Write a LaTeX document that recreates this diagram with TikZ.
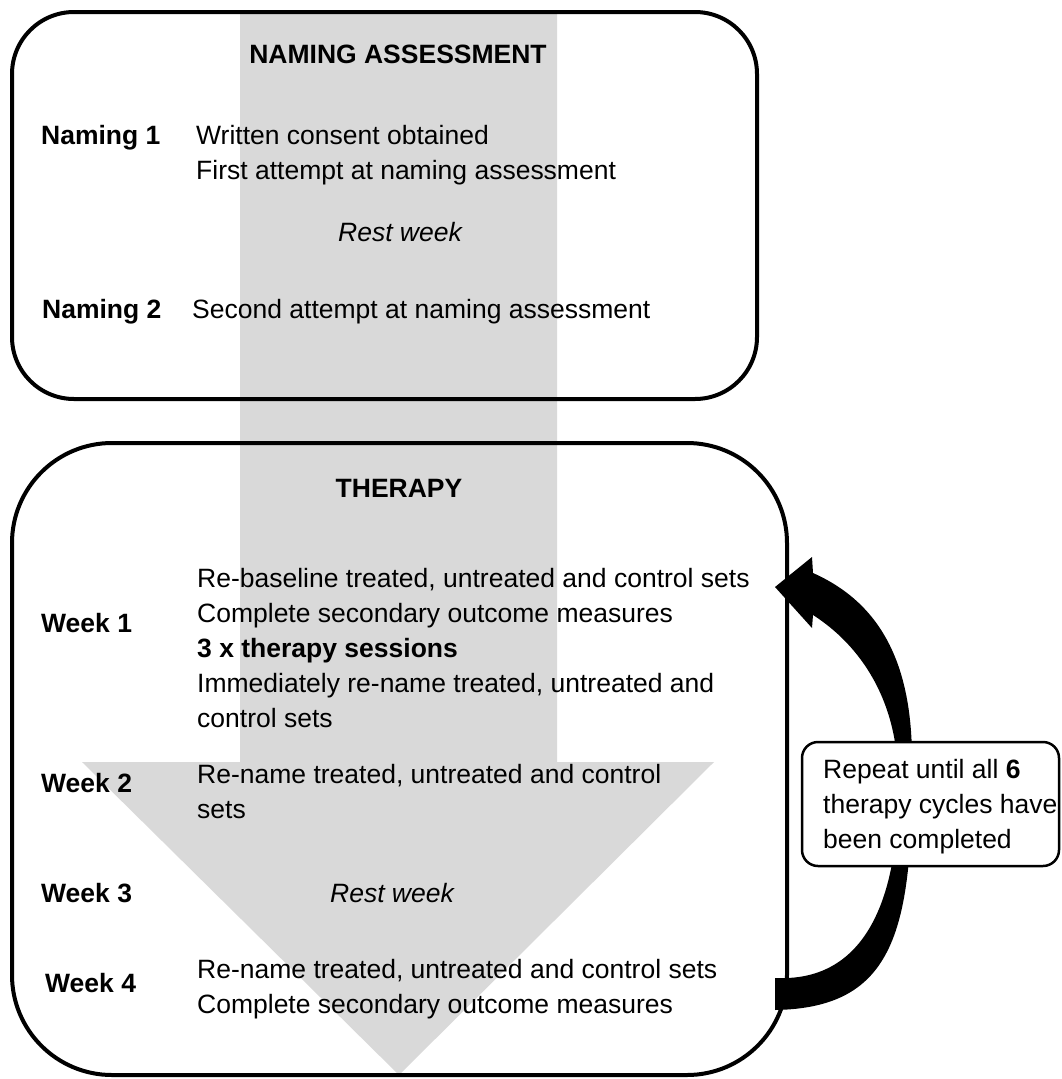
\documentclass[tikz,border=0pt]{standalone}
\usepackage{fontspec}
\setmainfont{Liberation Sans}
\newcommand\txtlines[1]{\vtop{\halign{##\hfil\cr#1\crcr}}}
\definecolor{arrowgray}{RGB}{217,217,217}
\begin{document}
\begin{tikzpicture}[x=1pt,y=-1pt,
  txt/.style={font=\fontsize{26.5pt}{35pt}\selectfont, inner sep=0pt, anchor=base west},
  ctxt/.style={txt, anchor=base},
  bigbox/.style={draw, line width=4pt},
  notebox/.style={draw, fill=white, line width=2.5pt, rounded corners=16pt}]
\useasboundingbox (0,0) rectangle (1062,1079);
\fill[white] (0,0) rectangle (1062,1079);
% grey flow arrow
\fill[arrowgray] (240,12) -- (557,12) -- (557,762) -- (714,762) -- (399,1075) -- (82,762) -- (240,762) -- cycle;
% boxes
\draw[bigbox, rounded corners=62pt] (12,12) rectangle (757,399);
\draw[bigbox, rounded corners=100pt] (12,443) rectangle (787,1075);
\coordinate (naming) at (384,205);
\coordinate (therapy) at (400,759);
% naming texts
\node[ctxt] (nahead) at (398,63) {\textbf{NAMING ASSESSMENT}};
\node[txt] (n1) at (41,144) {\textbf{Naming 1}};
\node[txt] (n1t) at (196,144) {\txtlines{Written consent obtained\cr First attempt at naming assessment}};
\node[ctxt] (rest1) at (400,241) {\itshape Rest week};
\node[txt] (n2) at (42,318) {\textbf{Naming 2}};
\node[txt] (n2t) at (192,318) {Second attempt at naming assessment};
% therapy texts
\node[ctxt] (thhead) at (399,497) {\textbf{THERAPY}};
\node[txt] (w1) at (41,632) {\textbf{Week 1}};
\node[txt] (w1t) at (197,587) {\txtlines{Re-baseline treated, untreated and control sets\cr Complete secondary outcome measures\cr \textbf{3 x therapy sessions}\cr Immediately re-name treated, untreated and\cr control sets}};
\node[txt] (w2) at (41,792) {\textbf{Week 2}};
\node[txt] (w2t) at (197,783) {\txtlines{Re-name treated, untreated and control\cr sets}};
\node[txt] (w3) at (41,902) {\textbf{Week 3}};
\node[ctxt] (rest2) at (392,902) {\itshape Rest week};
\node[txt] (w4) at (45,992) {\textbf{Week 4}};
\node[txt] (w4t) at (197,978) {\txtlines{Re-name treated, untreated and control sets\cr Complete secondary outcome measures}};
% curved repeat arrow
\fill[black] (775,1010) .. controls (895,1008) and (913,930) .. (912,760)
  .. controls (912,670) and (885,605) .. (813,573) -- (812,557) -- (775,587)
  -- (812,628) -- (813,615) .. controls (860,645) and (898,700) .. (898,780)
  .. controls (900,890) and (870,975) .. (787,978) -- (775,978) -- cycle;
% repeat note
\draw[notebox] (802,742) rectangle (1059,866);
\node[txt] (rep) at (823,778) {\txtlines{Repeat until all \textbf{6}\cr therapy cycles have\cr been completed}};
\end{tikzpicture}
\end{document}
